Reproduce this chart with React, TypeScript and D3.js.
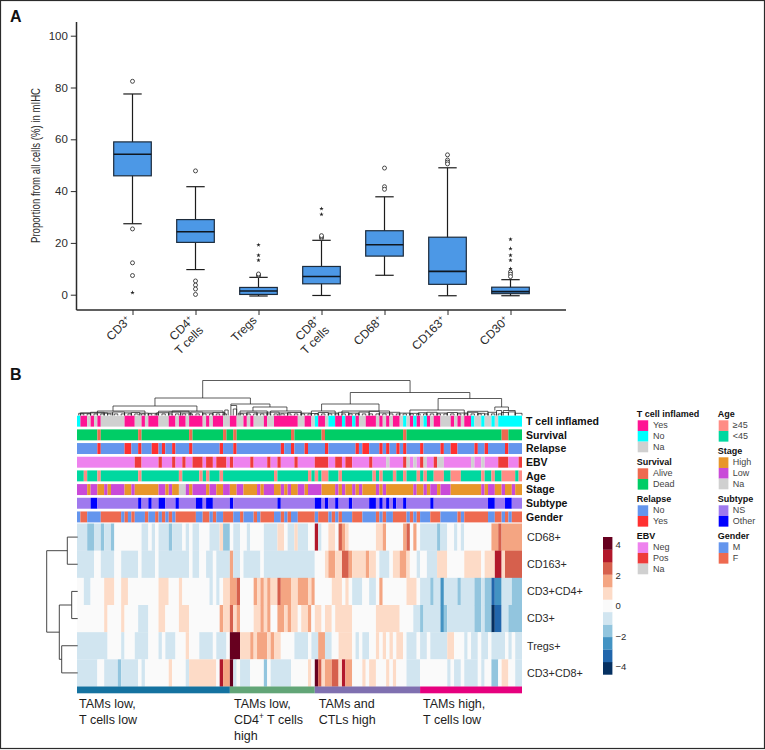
import { useEffect, useRef } from "react";
import * as d3 from "d3";

// ---- panel A values
const categories = ["CD3", "CD4", "Tregs", "CD8", "CD68", "CD163", "CD30"];
const secondLine = ["", "T cells", "", "T cells", "", "", ""];
const q1 = [45.9, 20.2, 0.1, 4.2, 14.9, 4, 0.4];
const medians = [54.2, 24.3, 1.4, 7, 19.3, 9, 1.2];
const q3 = [59, 29, 2.8, 10.9, 24.7, 22.2, 2.9];
const whiskerLow = [27.4, 9.7, -0.5, -0.3, 7.5, -0.4, -0.4];
const whiskerHigh = [77.5, 41.7, 6.7, 21, 37.8, 49, 5.8];
const outliers = [
  [82.4, 25.4, 12.3, 7.4],
  [47.8, 5.3, 3.7, 2.2, 0.1],
  [7.3, 7.6, 8],
  [21.8, 22.3, 22.8],
  [48.9, 41.7, 40.7],
  [54, 52, 51.2, 50.5],
  [8.8, 7.9, 7],
];
const extremes = [
  [0.8],
  [],
  [19.2, 15.2, 13.3],
  [33.2, 31],
  [],
  [],
  [21.4, 17.8, 15.2, 13.3, 10],
];

// ---- panel B: [value, end column] runs, 131 patients
const tCellInflamed = "N1 Y3 G4 Y5 G6 Y7 G14 Y17 G19 Y20 G21 Y24 G27 Y29 G30 Y32 G33 Y37 G38 Y39 G40 Y43 G45 Y47 G49 Y50 G51 Y52 G55 Y56 G58 Y65 G67 Y69 G70 N71 Y73 G74 N76 Y78 N79 Y81 N82 Y83 G85 Y88 G89 Y90 G91 Y92 G93 Y95 G96 N97 G98 Y99 N100 Y101 G102 N103 Y104 G105 Y107 G110 Y111 G112 Y113 G114 Y116 N117 G119 N120 G122 N123 G124 N131";
const survival = "D6 A7 D18 A19 D33 A34 D43 A44 D46 A47 D63 A64 D72 A73 D96 A97 D125 A127 D131";
const relapse = "N6 Y7 N14 Y16 N18 Y19 N22 Y24 N25 Y26 N28 Y29 N33 Y34 N42 Y43 N46 Y47 N60 Y61 N63 Y64 N67 Y68 N73 Y74 N82 Y83 N84 Y86 N89 Y90 N91 Y92 N94 Y95 N96 Y97 N101 Y102 N107 Y108 N110 Y112 N117 Y118 N120 Y121 N126 Y127 N131";
const ebv = "N17 P19 N24 P25 N28 P29 N31 P32 N34 P37 N38 P40 N41 P44 N45 P46 N51 P52 N56 P57 N59 P60 N64 P65 N70 P74 N76 P78 N79 P81 N86 P87 N91 G92 N96 P97 G98 N99 G100 N101 P102 G103 N105 P106 G108 N116 G117 N119 G120 N124 P127 N130 P131";
const age = "Y2 O3 Y6 O7 Y18 O19 Y30 O31 Y36 O37 Y38 O39 Y42 O43 Y58 O59 Y68 O69 Y70 O71 Y72 O74 Y77 O78 Y87 O88 Y89 O90 Y93 O94 Y96 O97 Y100 O101 Y102 O103 Y105 O108 Y110 O113 Y119 O120 Y122 O123 Y125 O129 Y130 O131";
const stage = "L3 H4 L6 H8 L9 H10 L14 H16 L17 H24 L26 H27 L28 H30 G32 L33 H34 L38 H39 L41 H43 L45 H47 L49 H53 L54 H55 L58 H60 L61 H62 L63 H65 L67 H68 L72 H76 L77 H78 L79 H81 L82 H83 L84 H88 L89 H90 L91 H99 L100 H102 L103 H104 L106 H107 L110 H119 L120 H121 L123 H125 L126 H128 L129 H131";
const subtype = "N4 O6 N18 O19 N21 O22 N24 O26 N29 O30 N35 O37 N38 O40 N45 O46 N59 O60 N70 O72 N73 O74 N76 O77 N80 O81 N86 O88 N89 O90 N91 O92 N93 O94 N96 O97 N104 O105 N121 O123 N126 O128 N131";
const gender = "M1 F3 M7 F13 M14 F15 M16 F17 M20 F21 M23 F24 M25 F26 M27 F28 M29 F35 M37 F39 M40 F41 M43 F46 M48 F49 M52 F53 M54 F58 M60 F61 M62 F63 M65 F70 M71 F74 M75 F76 M77 F78 M81 F84 M88 F89 M90 F91 M93 F97 M98 F99 M100 F101 M104 F107 M112 F113 M114 F121 M123 F125 M126 F127 M128 F131";

const heatCD68 = [-1,3,-2,5,-1,7,-2,8,-1,10,-2,11,0,19,-1,21,0,22,-1,23,0,24,-1,27,-2,28,-1,31,0,32,-1,33,0,34,-1,36,0,39,-1,42,1,43,-2,45,0,46,-1,48,0,50,-1,51,0,55,-1,59,1,61,0,62,-1,64,1,65,-1,68,0,70,4,71,-1,72,0,74,1,76,0,77,3,78,2,79,1,80,0,88,1,90,2,91,0,96,2,97,3,98,0,99,2,100,0,101,-1,106,-2,107,-1,109,0,111,-1,112,0,113,-1,114,0,122,2,124,3,125,2,131];
const heatCD163 = [-1,5,0,7,-1,11,0,13,-1,18,0,19,-1,23,0,24,-1,33,0,34,-1,36,0,38,-1,40,0,41,-1,45,2,46,-1,48,0,49,-1,54,0,55,-1,70,0,73,1,74,2,76,1,78,3,80,2,81,1,85,2,86,1,88,0,89,-1,92,0,93,1,95,2,97,1,98,0,100,-1,101,0,103,-1,106,1,109,0,114,1,119,0,120,1,123,4,125,1,126,3,131];
const heatCD3CD4 = [0,2,-1,4,0,8,1,11,0,13,1,15,0,24,1,27,0,30,1,31,0,39,-1,40,0,41,-1,42,0,43,1,45,2,47,3,48,0,52,2,53,1,54,2,55,1,56,2,57,1,59,3,60,2,63,1,65,2,68,1,69,2,70,0,75,1,78,0,79,1,80,0,81,-1,84,0,86,-1,88,0,89,2,90,0,97,1,100,0,101,-1,104,-2,105,-1,107,-3,108,-1,112,-2,113,-1,117,-2,119,-1,120,-2,122,-4,123,-3,125,-1,128,-2,131];
const heatCD3 = [0,8,1,9,0,13,1,14,0,18,-1,21,0,24,1,26,0,30,1,33,0,42,2,43,1,45,3,46,1,47,2,48,0,52,1,54,2,55,1,56,2,57,0,59,2,61,1,62,2,63,1,65,0,66,1,68,2,69,0,70,1,72,0,73,1,75,0,76,1,81,0,88,1,95,0,99,-1,101,-2,102,-1,107,-3,108,-2,109,-1,117,-2,119,-1,120,-2,122,-5,123,-4,125,-1,127,-2,131];
const heatTregs = [-1,9,0,13,-1,14,0,17,-1,21,0,24,-1,25,0,26,-1,29,0,32,1,33,0,36,-1,40,0,41,-1,44,0,45,5,48,1,51,2,52,1,53,2,56,1,57,2,58,1,60,0,64,-1,68,0,69,-1,71,2,73,-1,75,0,77,1,81,0,82,-1,83,0,84,-1,86,0,88,1,89,0,90,1,91,0,92,1,93,0,94,1,96,0,97,-1,100,0,101,-1,103,0,104,-1,109,1,111,0,114,-1,115,0,116,-1,118,0,119,-1,121,0,122,-1,126,0,127,-1,128,0,129,-1,131];
const heatCD3CD8 = [-1,6,0,8,-1,12,-2,13,-1,18,0,19,-1,20,0,27,1,28,0,32,-1,33,1,41,0,42,4,43,2,45,5,46,-1,47,0,48,-1,51,0,55,-2,56,0,57,-1,63,0,68,1,69,0,70,5,71,3,72,1,73,2,75,3,77,1,78,4,79,2,81,0,84,1,85,0,86,1,88,0,91,1,92,0,93,1,94,0,97,-1,101,0,109,-1,110,0,111,-1,113,0,114,-1,118,0,119,-1,120,0,122,-2,124,0,125,1,127,0,129,-1,131];

const heatRowNames = ["CD68+", "CD163+", "CD3+CD4+", "CD3+", "Tregs+", "CD3+CD8+"];
const heatRows = [heatCD68, heatCD163, heatCD3CD4, heatCD3, heatTregs, heatCD3CD8];
const palette = ["#053061", "#2166ac", "#4393c3", "#92c5de", "#d1e5f0", "#fafafa", "#fddbc7", "#f4a582", "#d6604d", "#b2182b", "#67001f"];
const bins = d3.range(-5, 6);

const groupSizes = [45, 25, 31, 30];
const groupColors = ["#1472a0", "#62a577", "#7f70b0", "#e6007e"];

const tracks = [
  { name: "T cell inflamed", runs: tCellInflamed, colors: { Y: "#ff1493", N: "#00ffff", G: "#d0d0d0" } },
  { name: "Survival", runs: survival, colors: { A: "#ee6a50", D: "#00cd66" } },
  { name: "Relapse", runs: relapse, colors: { N: "#6495ed", Y: "#ff3030" } },
  { name: "EBV", runs: ebv, colors: { N: "#ee82ee", P: "#ee3b3b", G: "#d0d0d0" } },
  { name: "Age", runs: age, colors: { O: "#ff8c85", Y: "#00d8a0" } },
  { name: "Stage", runs: stage, colors: { H: "#e8962a", L: "#c94ad8", G: "#d0d0d0" } },
  { name: "Subtype", runs: subtype, colors: { N: "#9f79ee", O: "#0000ff" } },
  { name: "Gender", runs: gender, colors: { M: "#6495ed", F: "#ee6a50" } },
];

const legendLeft = [
  { title: "T cell inflamed", base: 417, items: [["Yes", "#ff1493"], ["No", "#00ffff"], ["Na", "#d0d0d0"]] },
  { title: "Survival", base: 465, items: [["Alive", "#ee6a50"], ["Dead", "#00cd66"]] },
  { title: "Relapse", base: 502, items: [["No", "#6495ed"], ["Yes", "#ff3030"]] },
  { title: "EBV", base: 539, items: [["Neg", "#ee82ee"], ["Pos", "#ee3b3b"], ["Na", "#d0d0d0"]] },
];
const legendRight = [
  { title: "Age", base: 417, items: [["≥45", "#ff8c85"], ["<45", "#00d8a0"]] },
  { title: "Stage", base: 454, items: [["High", "#e8962a"], ["Low", "#c94ad8"], ["Na", "#d0d0d0"]] },
  { title: "Subtype", base: 502, items: [["NS", "#9f79ee"], ["Other", "#0000ff"]] },
  { title: "Gender", base: 539, items: [["M", "#6495ed"], ["F", "#ee6a50"]] },
];

// dendrogram over the columns: h = merge height, col = where a branch lands
type Branch = { h: number; col?: number; kids?: Branch[] };
const columnTree: Branch = {
  h: 35,
  kids: [
    {
      h: 17.5,
      kids: [
        { h: 9.5, kids: [{ h: 4.5, col: 10.6 }, { h: 4.5, col: 35.3 }] },
        {
          h: 11.5,
          kids: [
            { h: 10, col: 45.3 },
            { h: 8.5, kids: [{ h: 4.5, col: 51.8 }, { h: 4.5, col: 61.8 }] },
          ],
        },
      ],
    },
    {
      h: 23,
      kids: [
        { h: 11.5, kids: [{ h: 4.5, col: 72 }, { h: 4.5, col: 88.9 }] },
        {
          h: 17,
          kids: [
            { h: 5.5, col: 106.3 },
            { h: 8.5, kids: [{ h: 5, col: 123 }, { h: 5, col: 127 }] },
          ],
        },
      ],
    },
  ],
};
// low merges along the leaves: [first column, last column, height]
const leafMerges = [
  [0.5,4,2.2],[4,8,3.2],[1,9,2.6],[8,10.5,2.5],[10.5,14,3.5],[6,20,4.5],[14,16,2.6],[16,18.5,3],[18.5,21,2.4],[21,23.5,2.2],
  [23.5,27,2.8],[27,30.5,3.3],[24,33,4.3],[30.5,33.5,2.6],[33.5,37,3.4],[37,40,2.6],[28,43,4.5],[40,43.5,3],[43.5,44.5,5.5],
  [45.3,47,10],[46,47,6.5],[47.5,50,2.4],[50,53,3.2],[48,56,4.5],[53,56,2.6],[56,59.5,3.3],[59.5,62,2.5],[57,66,4.5],[62,66,3],[66,69,2.4],
  [69,71,2],[71,74,3],[69,76,4.5],[74,77,2.5],[77,80,3.2],[80,83,2.4],[83,86,3.4],[78,92,4.5],[86,89,4.2],[89,92,2.6],[92,95,3.2],[95,98,2.4],[98,100.5,2.2],
  [100.5,103,2.8],[103,106,3.2],[98,114,5.5],[106,109,2.5],[109,112,3],[112,115,2.5],[115,118,3.2],[118,120,2.2],[115,121,4.2],
  [121,123.5,3.2],[123.5,125,5],[125,127,3],[127,129,3.6],[125.5,129,5],[129,131,2.2],
];
// the lowest pairs, left column of each
const leafPairs = [1,3,5,7,9,11,13,15,17,19,21,23,25,27,29,31,33,35,37,39,41,43,48,50,52,54,56,58,60,62,64,66,68,70,72,74,76,78,80,82,84,86,88,90,92,94,96,98,100,102,104,106,108,110,112,114,116,118,120,122,124];
// dendrogram over the heatmap rows, h in the same units
const rowTree: Branch = {
  h: 31,
  kids: [
    { h: 10.4, kids: [{ h: 0, col: 0 }, { h: 0, col: 1 }] },
    {
      h: 18.4,
      kids: [
        { h: 6, kids: [{ h: 0, col: 2 }, { h: 0, col: 3 }] },
        { h: 16, kids: [{ h: 0, col: 4 }, { h: 0, col: 5 }] },
      ],
    },
  ],
};

const FONT = "'Liberation Sans', Arial, sans-serif";
const INK = "#2b2b2b";

function expandCodes(runs: string) {
  const out: string[] = [];
  runs.split(" ").forEach((t) => {
    const end = +t.slice(1);
    while (out.length < end) out.push(t[0]);
  });
  return out;
}

function expandLevels(runs: number[]) {
  const out: number[] = [];
  for (let i = 0; i < runs.length; i += 2) {
    while (out.length < runs[i + 1]) out.push(runs[i]);
  }
  return out;
}

// joins equal neighbours so the strips have no seams
function spans<T>(vals: T[]) {
  const out: { v: T; from: number; to: number }[] = [];
  vals.forEach((v, i) => {
    const last = out[out.length - 1];
    if (last && last.v === v) last.to = i;
    else out.push({ v, from: i, to: i });
  });
  return out;
}

// returns the branch position and adds its elbow to the path list
function walkTree(node: Branch, pos: (c: number) => number, depth: (h: number) => number, flip: boolean, paths: string[]): number {
  if (!node.kids) return node.col!;
  const spots = node.kids.map((k) => walkTree(k, pos, depth, flip, paths));
  const d = depth(node.h);
  const p = (a: number, b: number) => (flip ? `${b},${a}` : `${a},${b}`);
  paths.push(
    `M${p(pos(spots[0]), depth(node.kids[0].h))}L${p(pos(spots[0]), d)}L${p(pos(spots[1]), d)}L${p(pos(spots[1]), depth(node.kids[1].h))}`
  );
  return (spots[0] + spots[1]) / 2;
}

function writeSup(sel: d3.Selection<any, any, any, any>, base: string, after = "") {
  sel.append("tspan").text(base);
  sel.append("tspan").attr("font-size", "0.66em").attr("dy", "-0.5em").text("+");
  if (after) sel.append("tspan").attr("dy", "0.33em").text(after);
}

export default function App() {
  const svgRef = useRef<SVGSVGElement>(null);

  useEffect(() => {
    if (!svgRef.current) return;
    const svg = d3.select(svgRef.current);
    svg.selectAll("*").remove();
    svg.attr("font-family", FONT);

    svg.append("rect").attr("x", 0.5).attr("y", 0.5).attr("width", 764).attr("height", 748)
      .attr("fill", "#fff").attr("stroke", "#2b2b2b").attr("stroke-width", 1.2);

    svg.append("text").attr("x", 10).attr("y", 22).attr("font-size", 16).attr("font-weight", 700).attr("fill", "#111").text("A");
    svg.append("text").attr("x", 10).attr("y", 380).attr("font-size", 16).attr("font-weight", 700).attr("fill", "#111").text("B");

    // ---------- panel A
    const y = d3.scaleLinear().domain([0, 100]).range([294.7, 35.7]);
    const x = d3.scalePoint<string>().domain(categories).range([132.5, 510.5]);
    const left = 76.5, bottom = 310, right = 566, top = 22;

    const yAxis = svg.append("g").attr("transform", `translate(${left},0)`)
      .call(d3.axisLeft(y).tickValues([0, 20, 40, 60, 80, 100]).tickSize(5.7).tickPadding(3));
    yAxis.select(".domain").attr("d", `M0,${top}V${bottom}`);
    const xAxis = svg.append("g").attr("transform", `translate(0,${bottom})`)
      .call(d3.axisBottom(x).tickSize(5).tickFormat(() => ""));
    xAxis.select(".domain").attr("d", `M${left},0H${right}`);
    [yAxis, xAxis].forEach((a) => {
      a.attr("color", INK).attr("font-family", FONT);
      a.select(".domain").attr("stroke-width", 1.5);
      a.selectAll("line").attr("stroke-width", 1);
    });
    yAxis.selectAll("text").attr("font-size", 11.5).attr("fill", INK);

    categories.forEach((c, i) => {
      const cx = x(c)!;
      const label = svg.append("text")
        .attr("transform", `translate(${cx - 1},${bottom + 11}) rotate(-45)`)
        .attr("text-anchor", "end").attr("font-size", 12).attr("fill", INK);
      if (c === "Tregs") label.text(c);
      else writeSup(label, c);
      if (secondLine[i]) {
        svg.append("text")
          .attr("transform", `translate(${cx + 8.5},${bottom + 21}) rotate(-45)`)
          .attr("text-anchor", "end").attr("font-size", 12).attr("fill", INK).text(secondLine[i]);
      }

      const g = svg.append("g");
      g.append("line").attr("x1", cx).attr("x2", cx).attr("y1", y(whiskerLow[i])).attr("y2", y(whiskerHigh[i]))
        .attr("stroke", "#1c1c1c").attr("stroke-width", 1.2);
      [whiskerLow[i], whiskerHigh[i]].forEach((v) =>
        g.append("line").attr("x1", cx - 9.2).attr("x2", cx + 9.2).attr("y1", y(v)).attr("y2", y(v))
          .attr("stroke", "#1c1c1c").attr("stroke-width", 1.2)
      );
      g.append("rect").attr("x", cx - 18.8).attr("width", 37.6).attr("y", y(q3[i])).attr("height", y(q1[i]) - y(q3[i]))
        .attr("fill", "#4c98e6").attr("stroke", "#1d2c3c").attr("stroke-width", 1.2);
      g.append("line").attr("x1", cx - 18.8).attr("x2", cx + 18.8).attr("y1", y(medians[i])).attr("y2", y(medians[i]))
        .attr("stroke", "#0f1720").attr("stroke-width", 1.6);
      outliers[i].forEach((v) =>
        g.append("circle").attr("cx", cx).attr("cy", y(v)).attr("r", 2)
          .attr("fill", "#fff").attr("stroke", "#222").attr("stroke-width", 0.8)
      );
      extremes[i].forEach((v) =>
        g.append("path").attr("d", d3.symbol(d3.symbolStar, 6)()!)
          .attr("transform", `translate(${cx},${y(v)})`).attr("fill", "#222")
      );
    });

    svg.append("text")
      .attr("transform", "translate(39.5,165.5) rotate(-90)")
      .attr("text-anchor", "middle").attr("font-size", 13).attr("fill", INK)
      .attr("textLength", 155).attr("lengthAdjust", "spacingAndGlyphs")
      .text("Proportion from all cells (%) in mIHC");

    // ---------- panel B
    const columns = d3.range(131);
    const colEdge = d3.scaleLinear().domain([0, 131]).range([77, 522]);
    const trackY = d3.scaleBand<string>().domain(tracks.map((t) => t.name)).range([415.7, 522.4]).paddingInner(0.2).paddingOuter(0).align(0);

    // column dendrogram
    const depth = d3.scaleLinear().domain([0, 35]).range([415.5, 380.5]);
    const treePaths: string[] = [];
    walkTree(columnTree, (c) => colEdge(c), depth, false, treePaths);
    leafMerges.forEach(([a, b, h]) => {
      treePaths.push(`M${colEdge(a)},${depth(0)}V${depth(h)}H${colEdge(b)}V${depth(0)}`);
    });
    leafPairs.forEach((c) => {
      treePaths.push(`M${colEdge(c)},${depth(0)}V${depth(1.6)}H${colEdge(c + 1)}V${depth(0)}`);
    });
    svg.append("g").selectAll("path").data(treePaths).join("path")
      .attr("d", (d) => d).attr("fill", "none").attr("stroke", "#262626").attr("stroke-width", 0.75);

    // annotation strips
    tracks.forEach((t) => {
      const colors = t.colors as Record<string, string>;
      svg.append("g").selectAll("rect").data(spans(expandCodes(t.runs))).join("rect")
        .attr("x", (d) => colEdge(d.from)).attr("width", (d) => colEdge(d.to + 1) - colEdge(d.from))
        .attr("y", trackY(t.name)!).attr("height", trackY.bandwidth())
        .attr("fill", (d) => colors[d.v]);
      svg.append("text").attr("x", 526).attr("y", trackY(t.name)! + trackY.bandwidth() / 2 + 3.7)
        .attr("font-size", 10.5).attr("font-weight", 700).attr("fill", "#111").text(t.name);
    });

    // heatmap
    const heatY = d3.scaleBand<string>().domain(heatRowNames).range([523.5, 686.5]);
    const fill = d3.scaleOrdinal<number, string>().domain(bins).range(palette);
    heatRows.forEach((runs, r) => {
      svg.append("g").selectAll("rect").data(spans(expandLevels(runs))).join("rect")
        .attr("x", (d) => colEdge(d.from)).attr("width", (d) => colEdge(d.to + 1) - colEdge(d.from))
        .attr("y", heatY(heatRowNames[r])!).attr("height", heatY.bandwidth() + 0.2)
        .attr("fill", (d) => fill(d.v));
      svg.append("text").attr("x", 527).attr("y", heatY(heatRowNames[r])! + heatY.bandwidth() / 2 + 3.8)
        .attr("font-size", 10.8).attr("fill", INK).text(heatRowNames[r]);
    });

    // row dendrogram
    const rowPos = d3.scaleLinear().domain([0, 5]).range([537.1, 672.9]);
    const rowDepth = d3.scaleLinear().domain([0, 31]).range([77.7, 46.7]);
    const rowPaths: string[] = [];
    walkTree(rowTree, (c) => rowPos(c), rowDepth, true, rowPaths);
    svg.append("g").selectAll("path").data(rowPaths).join("path")
      .attr("d", (d) => d).attr("fill", "none").attr("stroke", "#333").attr("stroke-width", 0.9);

    // cluster bar and its captions
    let start = 0;
    const groupStarts = groupSizes.map((n) => { const s = start; start += n; return s; });
    groupSizes.forEach((n, i) => {
      svg.append("rect").attr("x", colEdge(groupStarts[i])).attr("width", colEdge(n) - colEdge(0))
        .attr("y", 686.5).attr("height", 6.8).attr("fill", groupColors[i]);
    });
    const caption = (cx: number, row: number) =>
      svg.append("text").attr("x", cx).attr("y", 707.5 + row * 16).attr("font-size", 12.5).attr("fill", "#1d1d1d");
    caption(79, 0).text("TAMs low,");
    caption(79, 1).text("T cells low");
    caption(234, 0).text("TAMs low,");
    writeSup(caption(234, 1), "CD4", " T cells");
    caption(234, 2).text("high");
    caption(318.7, 0).text("TAMs and");
    caption(318.7, 1).text("CTLs high");
    caption(423, 0).text("TAMs high,");
    caption(423, 1).text("T cells low");

    // legends
    const drawLegend = (blocks: typeof legendLeft, tx: number, sx: number, sw: number, lx: number) => {
      blocks.forEach((b) => {
        svg.append("text").attr("x", tx).attr("y", b.base).attr("font-size", 9).attr("font-weight", 700).attr("fill", "#111").text(b.title);
        b.items.forEach(([label, color], i) => {
          const sy = b.base + 3.3 + i * 10.67;
          svg.append("rect").attr("x", sx).attr("y", sy).attr("width", sw).attr("height", 10.67).attr("fill", color);
          svg.append("text").attr("x", lx).attr("y", sy + 8).attr("font-size", 9).attr("fill", "#444").text(label);
        });
      });
    };
    drawLegend(legendLeft, 636.7, 637.7, 10.5, 653);
    drawLegend(legendRight, 717.7, 718.7, 9.7, 732.7);

    // colour bar
    const barY = d3.scaleLinear().domain([-4.5, 4.5]).range([674.5, 537]);
    const binH = (barY(-4.5) - barY(4.5)) / 11;
    svg.append("g").selectAll("rect").data(bins).join("rect")
      .attr("x", 603).attr("width", 9.4)
      .attr("y", (_, i) => barY(-4.5) - (i + 1) * binH).attr("height", binH + 0.2)
      .attr("fill", (d) => fill(d));
    const barAxis = svg.append("g").attr("transform", "translate(612.4,0)")
      .call(d3.axisRight(barY).tickValues([-4, -2, 0, 2, 4]).tickSize(0).tickPadding(3));
    barAxis.select(".domain").remove();
    barAxis.attr("font-family", FONT).selectAll("text").attr("font-size", 9.5).attr("fill", INK);
    void columns;
  }, []);

  return <svg ref={svgRef} width={765} height={750} style={{ position: "absolute", left: 0, top: 0 }} />;
}
